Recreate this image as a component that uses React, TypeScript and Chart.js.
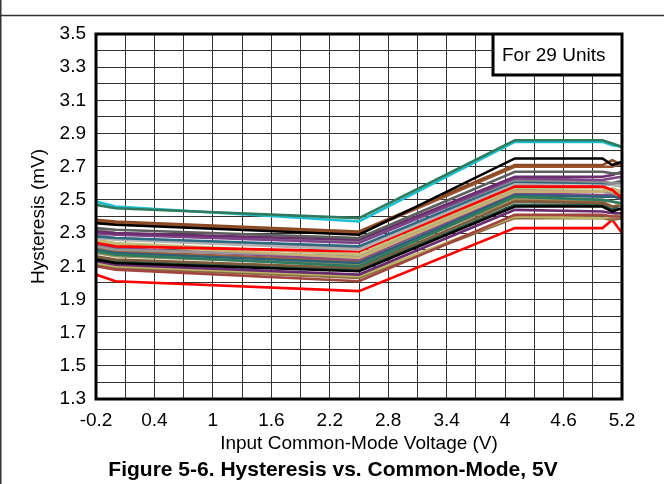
import React, { useEffect, useRef } from "react";
import { Chart, registerables } from "chart.js";

Chart.register(...registerables);

const xValues = [-0.2, 0, 2.5, 4.1, 5.0, 5.1, 5.2];

const unit01 = [2.47, 2.45, 2.39, 2.86, 2.86, 2.84, 2.82];
const unit02 = [2.49, 2.46, 2.37, 2.85, 2.85, 2.83, 2.82];
const unit03 = [2.36, 2.35, 2.29, 2.75, 2.75, 2.71, 2.73];
const unit04 = [2.38, 2.37, 2.31, 2.71, 2.71, 2.74, 2.71];
const unit05 = [2.37, 2.36, 2.30, 2.70, 2.70, 2.70, 2.72];
const unit06 = [2.33, 2.32, 2.27, 2.67, 2.67, 2.66, 2.66];
const unit07 = [2.31, 2.30, 2.26, 2.64, 2.64, 2.65, 2.67];
const unit08 = [2.30, 2.29, 2.24, 2.63, 2.62, 2.63, 2.64];
const unit09 = [2.32, 2.30, 2.25, 2.62, 2.61, 2.60, 2.60];
const unit10 = [2.28, 2.27, 2.22, 2.61, 2.60, 2.60, 2.61];
const unit11 = [2.27, 2.26, 2.20, 2.60, 2.60, 2.59, 2.58];
const unit12 = [2.24, 2.22, 2.19, 2.58, 2.58, 2.56, 2.51];
const unit13 = [2.26, 2.24, 2.17, 2.57, 2.57, 2.55, 2.54];
const unit14 = [2.25, 2.23, 2.15, 2.55, 2.55, 2.57, 2.55];
const unit15 = [2.29, 2.27, 2.21, 2.59, 2.58, 2.60, 2.62];
const unit16 = [2.19, 2.17, 2.10, 2.52, 2.50, 2.49, 2.48];
const unit17 = [2.20, 2.18, 2.12, 2.53, 2.52, 2.52, 2.51];
const unit18 = [2.18, 2.16, 2.11, 2.51, 2.50, 2.49, 2.47];
const unit19 = [2.14, 2.12, 2.07, 2.46, 2.46, 2.43, 2.45];
const unit20 = [2.16, 2.14, 2.09, 2.49, 2.48, 2.46, 2.47];
const unit21 = [2.13, 2.11, 2.05, 2.44, 2.43, 2.42, 2.42];
const unit22 = [2.10, 2.08, 2.01, 2.41, 2.41, 2.40, 2.40];
const unit23 = [2.12, 2.10, 2.04, 2.40, 2.39, 2.40, 2.42];
const unit24 = [2.11, 2.09, 2.03, 2.39, 2.39, 2.38, 2.39];
const unit25 = [2.05, 2.01, 1.95, 2.33, 2.33, 2.38, 2.30];
const unit26 = [2.22, 2.20, 2.16, 2.56, 2.55, 2.54, 2.53];
const unit27 = [2.23, 2.21, 2.14, 2.54, 2.53, 2.53, 2.50];
const unit28 = [2.15, 2.13, 2.08, 2.47, 2.47, 2.44, 2.48];
const unit29 = [2.21, 2.19, 2.13, 2.50, 2.49, 2.46, 2.44];

const units = [
  unit01, unit02, unit03, unit04, unit05, unit06, unit07, unit08, unit09, unit10,
  unit11, unit12, unit13, unit14, unit15, unit16, unit17, unit18, unit19, unit20,
  unit21, unit22, unit23, unit24, unit25, unit26, unit27, unit28, unit29,
];

const unitColors = [
  "#2F7A5C", "#1CBFD0", "#000000", "#8B4A26", "#9C5530", "#5E5E5E", "#6B2D6E", "#7E4488", "#8C8C8C", "#2D6A82",
  "#B2B2B2", "#FF0000", "#C2BC78", "#C8B070", "#C09A9A", "#2E7A5E", "#2F6079", "#9A9460", "#000000", "#7B5B3A",
  "#6A2C70", "#A0453F", "#BDB565", "#8C6A40", "#FF0000", "#969696", "#8A4A8A", "#245848", "#A0603A",
];

const xTickLabels = ["-0.2", "0.4", "1", "1.6", "2.2", "2.8", "3.4", "4", "4.6", "5.2"];
const yTickLabels = ["1.3", "1.5", "1.7", "1.9", "2.1", "2.3", "2.5", "2.7", "2.9", "3.1", "3.3", "3.5"];

const xTitle = "Input Common-Mode Voltage (V)";
const yTitle = "Hysteresis (mV)";
const caption = "Figure 5-6. Hysteresis vs. Common-Mode, 5V";
const boxText = "For 29 Units";

const FONT = "'Liberation Sans', Arial, sans-serif";

const decorPlugin = {
  id: "decor",
  beforeDraw(chart: any) {
    const ctx = chart.ctx;
    ctx.save();
    ctx.fillStyle = "#fff";
    ctx.fillRect(0, 0, chart.width, chart.height);
    ctx.strokeStyle = "#333";
    ctx.lineWidth = 1.5;
    ctx.beginPath();
    ctx.moveTo(0, 15.5);
    ctx.lineTo(chart.width, 15.5);
    ctx.moveTo(0.75, 0);
    ctx.lineTo(0.75, chart.height);
    ctx.stroke();
    ctx.restore();
  },
  afterDraw(chart: any) {
    const ctx = chart.ctx;
    const a = chart.chartArea;
    ctx.save();
    // legend box
    const bx = 493, by = a.top, bw = a.right - 493, bh = 41;
    ctx.fillStyle = "#fff";
    ctx.fillRect(bx, by, bw, bh);
    ctx.strokeStyle = "#000";
    ctx.lineWidth = 2;
    ctx.strokeRect(bx, by, bw, bh);
    ctx.lineWidth = 3;
    ctx.beginPath();
    ctx.moveTo(bx, by);
    ctx.lineTo(bx, by + bh);
    ctx.lineTo(bx + bw, by + bh);
    ctx.stroke();
    ctx.fillStyle = "#000";
    ctx.font = `19px ${FONT}`;
    ctx.textBaseline = "middle";
    ctx.textAlign = "left";
    ctx.fillText(boxText, bx + 9, by + bh / 2 + 1);
    // plot border
    ctx.lineWidth = 3;
    ctx.strokeStyle = "#000";
    ctx.strokeRect(a.left, a.top, a.right - a.left, a.bottom - a.top);
    // caption
    ctx.font = `bold 21px ${FONT}`;
    ctx.textAlign = "center";
    ctx.fillText(caption, 333, 470);
    ctx.restore();
  },
};

export default function App() {
  const ref = useRef<HTMLCanvasElement | null>(null);
  useEffect(() => {
    if (!ref.current) return;
    const datasets = units.map((u, i) => ({
      label: `Unit ${i + 1}`,
      data: u.map((y, j) => ({ x: xValues[j], y })),
      borderColor: unitColors[i],
      backgroundColor: unitColors[i],
      borderWidth: 2.6,
      pointRadius: 0,
      tension: 0,
      fill: false,
    }));
    const chart = new Chart(ref.current, {
      type: "line",
      data: { datasets },
      plugins: [decorPlugin],
      options: {
        animation: false,
        responsive: false,
        events: [],
        layout: { padding: { left: 0, right: 42, top: 34, bottom: 0 } },
        plugins: { legend: { display: false }, tooltip: { enabled: false }, title: { display: false } },
        scales: {
          x: {
            type: "linear",
            min: -0.2,
            max: 5.2,
            afterFit: (s: any) => { s.height = 85; },
            grid: { color: "#333", lineWidth: 1, drawTicks: false },
            border: { display: false },
            ticks: {
              stepSize: 0.3,
              autoSkip: false,
              maxRotation: 0,
              padding: 10,
              color: "#000",
              font: { family: FONT, size: 19 },
              callback: (_v: any, i: number) => (i % 2 === 0 ? xTickLabels[i / 2] : ""),
            },
            title: {
              display: true,
              text: xTitle,
              color: "#000",
              font: { family: FONT, size: 19 },
              padding: { top: 0, bottom: 29 },
            },
          },
          y: {
            min: 1.3,
            max: 3.5,
            afterFit: (s: any) => { s.width = 96; },
            grid: { color: "#333", lineWidth: 1, drawTicks: false },
            border: { display: false },
            ticks: {
              stepSize: 0.1,
              autoSkip: false,
              padding: 10,
              color: "#000",
              font: { family: FONT, size: 19 },
              callback: (_v: any, i: number) => (i % 2 === 0 ? yTickLabels[i / 2] : ""),
            },
            title: {
              display: true,
              text: yTitle,
              color: "#000",
              font: { family: FONT, size: 19 },
              padding: { top: 27, bottom: 0 },
            },
          },
        },
      },
    });
    return () => chart.destroy();
  }, []);
  return (
    <div style={{ position: "fixed", left: 0, top: 0, width: 664, height: 484 }}>
      <canvas ref={ref} width={664} height={484} />
    </div>
  );
}
